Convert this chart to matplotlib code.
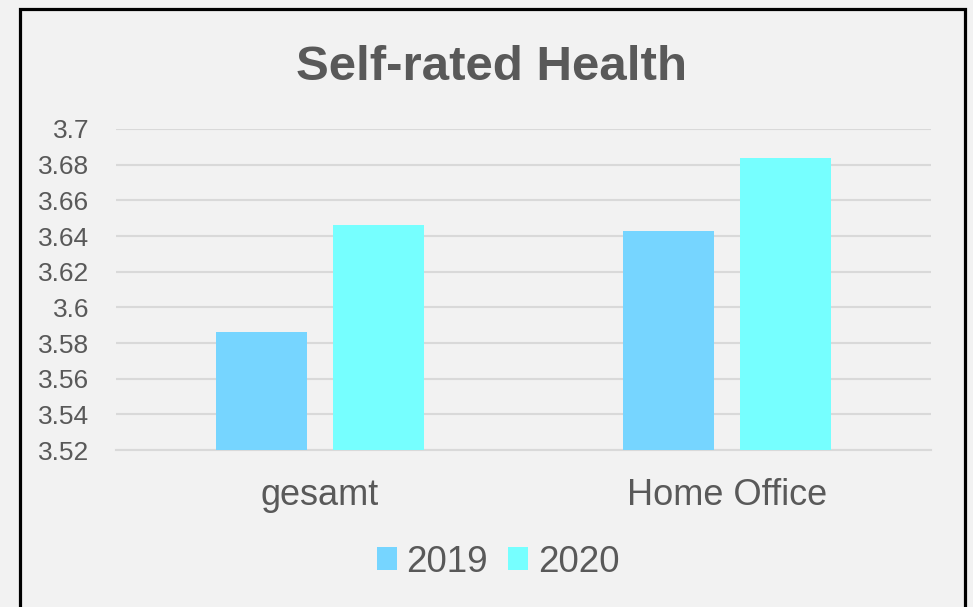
import matplotlib
matplotlib.use("Agg")
import matplotlib.pyplot as plt
import numpy as np
from matplotlib.patches import Rectangle

# ----------------------------------------------------------------- data
categories = ["gesamt", "Home Office"]
years = ["2019", "2020"]
vals_2019 = [3.586, 3.643]
vals_2020 = [3.646, 3.684]
yticks = [3.52, 3.54, 3.56, 3.58, 3.6, 3.62, 3.64, 3.66, 3.68, 3.7]
ytick_labels = ["3.52", "3.54", "3.56", "3.58", "3.6", "3.62", "3.64", "3.66", "3.68", "3.7"]

BG = "#f2f2f2"
TXT = "#595959"
GRID = "#d9d9d9"
COLORS = ["#76d5ff", "#76ffff"]

plt.rcParams["font.family"] = ["Liberation Sans", "DejaVu Sans"]

fig = plt.figure(figsize=(9.73, 6.07), dpi=100, facecolor=BG)
ax = fig.add_axes([0.1192, 0.2586, 0.8376, 0.5289], facecolor=BG)

x = np.arange(len(categories))
w, gap = 0.223, 0.064
off = w / 2 + gap / 2
b1 = ax.bar(x - off, np.array(vals_2019) - 3.52, w, bottom=3.52, color=COLORS[0],
            label=years[0], zorder=3)
b2 = ax.bar(x + off, np.array(vals_2020) - 3.52, w, bottom=3.52, color=COLORS[1],
            label=years[1], zorder=3)

ax.set_xlim(-0.5, 1.5)
ax.set_ylim(3.52, 3.7)
ax.set_yticks(yticks)
ax.set_yticklabels(ytick_labels)
ax.set_xticks(x)
ax.set_xticklabels(categories)
ax.yaxis.grid(True, color=GRID, lw=1.5, zorder=0)
ax.set_axisbelow(True)
for s in ["top", "right", "left"]:
    ax.spines[s].set_visible(False)
ax.spines["bottom"].set_color(GRID)
ax.spines["bottom"].set_linewidth(1.5)
ax.tick_params(axis="y", length=0, pad=19, labelsize=19, labelcolor=TXT)
ax.tick_params(axis="x", length=0, pad=20, labelsize=26, labelcolor=TXT)

fig.text(492 / 973, 1 - 80 / 607, "Self-rated Health", ha="center", va="baseline",
         fontsize=35.5, fontweight="heavy", color=TXT)

leg = fig.legend(handles=[b1, b2], loc="center", bbox_to_anchor=(498 / 973, 1 - 562 / 607),
                 ncol=2, frameon=False, fontsize=26.5, labelcolor=TXT,
                 handlelength=0.55, handleheight=0.55, handletextpad=0.25, columnspacing=0.55)

# outer chart border (bottom edge falls outside the image)
fig.patches.append(Rectangle((19.5 / 973, -0.05), (965 - 19.5) / 973, 1.05 - 9 / 607,
                             transform=fig.transFigure, fill=False, ec="black", lw=2.3))

fig.savefig("out.png", dpi=100, facecolor=BG)
